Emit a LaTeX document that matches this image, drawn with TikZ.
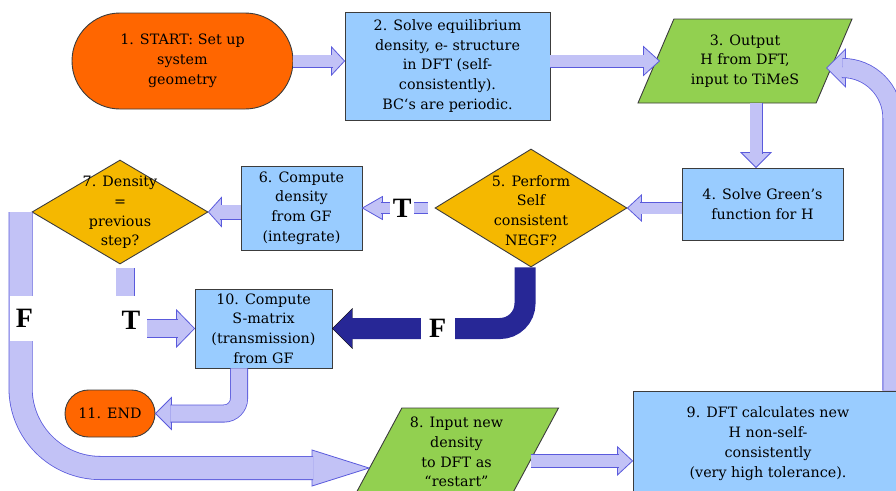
\documentclass[tikz,border=0pt]{standalone}
\usepackage{fontspec}
\setmainfont{DejaVu Serif}
\newfontfamily\tffont{Liberation Serif}
\usetikzlibrary{shapes.geometric,calc}
\definecolor{termorange}{HTML}{FF6600}
\definecolor{procblue}{HTML}{99CCFF}
\definecolor{iogreen}{HTML}{92D050}
\definecolor{decgold}{HTML}{F5B800}
\definecolor{edgegray}{HTML}{3C3C3C}
\definecolor{flowfill}{HTML}{C2C2F6}
\definecolor{flowline}{HTML}{5A5ADC}
\definecolor{flowdark}{HTML}{272796}

% block arrow head: [style]{tip}{angle}{half width}{length}
\newcommand{\blockhead}[5][flowhead]{%
  \filldraw[#1,shift={#2},rotate=#3] (0,0) -- (-#5,-#4) -- (-#5,#4) -- cycle;}

\begin{document}
\begin{tikzpicture}[x=1pt,y=-1pt,
  every node/.style={font=\fontsize{14.3}{19.8}\selectfont, align=center},
  shapebase/.style={draw=edgegray, line width=0.9pt},
  terminal/.style={shapebase, fill=termorange, rectangle},
  process/.style={shapebase, fill=procblue, rectangle},
  decision/.style={shapebase, fill=decgold, diamond, inner sep=0pt},
  io/.style={shapebase, fill=iogreen, trapezium, trapezium left angle=56,
    trapezium right angle=124, trapezium stretches body, inner sep=0pt},
  flow/.style={draw=flowline, line width=0.8pt, double=flowfill, double distance=#1},
  flowhead/.style={fill=flowfill, draw=flowline, line width=0.8pt},
  darkhead/.style={fill=flowdark},
  tf/.style={fill=white, font=\fontsize{28}{28}\selectfont\tffont\bfseries, inner sep=1pt}]
	\useasboundingbox (0,0) rectangle (896,490);
	\clip (0,0) rectangle (896,490);
	
	\node[terminal, rounded corners=48pt, minimum width=221pt, minimum height=96pt] (n1) at (182.5,61) {1. START: Set up\\system\\geometry};
	\node[process, minimum width=205pt, minimum height=108pt] (n2) at (447.5,66) {2. Solve equilibrium\\density, e- structure\\in DFT (self-\\consistently).\\BC‘s are periodic.};
	\node[io, minimum width=214pt, minimum height=84pt] (n3) at (745,61) {3. Output\\H from DFT,\\input to TiMeS};
	\node[process, minimum width=161pt, minimum height=72pt] (n4) at (762.5,204) {4. Solve Green's\\function for H};
	\node[decision, minimum width=192pt, minimum height=118pt] (n5) at (531,208) {};
	\node (n5t) at (531,210.5) {5. Perform\\Self\\consistent\\NEGF?};
	\node[process, minimum width=121pt, minimum height=84pt] (n6) at (301.5,208) {6. Compute\\density\\from GF\\(integrate)};
	\node[decision, minimum width=176pt, minimum height=104pt] (n7) at (120,212) {};
	\node (n7t) at (120,212.5) {7. Density\\=\\previous\\step?};
	\node[io, minimum width=204pt, minimum height=88pt] (n8) at (456.5,452) {8. Input new\\density\\to DFT as\\“restart”};
	\node[process, minimum width=270pt, minimum height=105pt] (n9) at (768,443.5) {9. DFT calculates new\\H non-self-\\consistently\\(very high tolerance).};
	\node[process, minimum width=137pt, minimum height=79pt] (n10) at (263.5,328.5) {10. Compute\\S-matrix\\(transmission)\\from GF};
	\node[terminal, rounded corners=23.5pt, minimum width=90pt, minimum height=47pt] (n11) at (110,413.5) {11. END};
	
	% 1 -> 2 -> 3 -> 4 -> 5
	\blockhead{(n1.east -| n2.west)}{0}{14}{13}
	\draw[flow=11.4pt] (n1.east) -- ($(n1.east -| n2.west)+(-12,0)$);
	\coordinate (t3) at ($(n3.west)+(4,0)$);
	\blockhead{(t3)}{0}{14.5}{16}
	\draw[flow=11.4pt] (n2.east |- t3) -- ($(t3)+(-15,0)$);
	\coordinate (t4) at ($(n4.north)+(-6.5,0)$);
	\blockhead{(t4)}{-90}{15}{15}
	\draw[flow=11.4pt] (n3.south -| t4) -- ($(t4)+(0,-14)$);
	\blockhead{(n5.east)}{180}{13}{14}
	\draw[flow=11pt] (n4.west |- n5.east) -- ($(n5.east)+(13,0)$);
	
	% 5 -> 6 -> 7
	\blockhead{(n6.east)}{180}{11.5}{20}
	\draw[flow=10.4pt] ($(n5.west)+(-7,0)$) -- ($(n6.east)+(19,0)$);
	\node[tf, minimum width=24pt, minimum height=26pt] (t56) at ($(n5.west)!0.45!(n6.east)$) {T};
	\blockhead{(n7.east)}{180}{14.5}{13}
	\draw[flow=13.4pt] (n6.west |- n7.east) -- ($(n7.east)+(12,0)$);
	
	% 5 -> 10 (false)
	\blockhead[darkhead]{(n10.east)}{180}{20}{20}
	\draw[draw=flowdark, line width=21pt, rounded corners=25pt] ($(n5.south)+(-6,0)$) |- ($(n10.east)+(19,0)$);
	\node[tf, minimum width=34pt, minimum height=30pt] (f510) at ($(n10.east)!0.53!(n5.south |- n10.east)$) {F};
	
	% 7 -> 10 (true)
	\coordinate (s710) at ($(n7.south)+(5,4)$);
	\blockhead{(n10.west)}{0}{18.5}{18}
	\draw[flow=17.4pt] (s710) |- ($(n10.west)+(-17,0)$);
	\node[tf, minimum width=32pt, minimum height=50pt] (t710) at ($(s710 |- n10.west)+(6,-8)$) {T};
	
	% 7 -> 8 (false)
	\coordinate (s78) at ($(n7.west)+(-11,0)$);
	\coordinate (t8) at ($(n8.top left corner)!0.68!(n8.bottom left corner)$);
	\blockhead{(t8)}{0}{18}{57}
	\draw[flow=22.4pt, rounded corners=80pt] (s78) |- ($(t8)+(-56,0)$);
	\node[tf, minimum width=30pt, minimum height=45pt] (f78) at ($(s78)+(4,106)$) {F};
	
	% 10 -> 11, 8 -> 9 -> 3
	\coordinate (s1011) at ($(n10.south)+(-24.5,0)$);
	\blockhead{(n11.east)}{180}{16}{16}
	\draw[flow=16.4pt, rounded corners=15pt] (s1011) |- ($(n11.east)+(15,0)$);
	\coordinate (s89) at ($(n8.top right corner)!0.6!(n8.bottom right corner)$);
	\blockhead{(s89 -| n9.west)}{0}{14}{15}
	\draw[flow=12.4pt] (s89) -- ($(s89 -| n9.west)+(-14,0)$);
	\coordinate (t3r) at ($(n3.east)+(-8,7)$);
	\blockhead{(t3r)}{180}{19}{19}
	\draw[flow=18.4pt, rounded corners=50pt] ($(n9.north east)+(-11,0)$) |- ($(t3r)+(18,0)$);
\end{tikzpicture}
\end{document}
